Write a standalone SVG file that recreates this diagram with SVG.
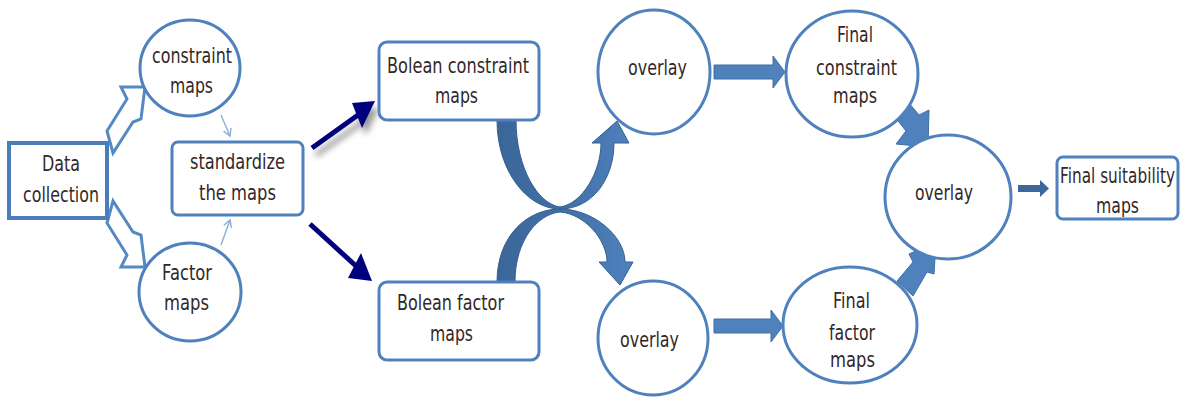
<svg xmlns="http://www.w3.org/2000/svg" width="1186" height="407" viewBox="0 0 1186 407">
<style>
.n{fill:#fff;stroke:#4f81bd;stroke-width:3}
.t{font-family:"DejaVu Sans",Verdana,sans-serif;font-size:22px;fill:#332828}
.blk{fill:#4f81bd;stroke:#3f6ea6;stroke-width:1}
.hol{fill:#fff;stroke:#5589c4;stroke-width:3;stroke-linejoin:miter}
.navy{fill:#00007c}
.thin{stroke:#8fb1da;stroke-width:1.5;fill:none}
</style>
<defs>
<linearGradient id="cg" gradientUnits="userSpaceOnUse" x1="498" y1="0" x2="632" y2="0">
<stop offset="0" stop-color="#3b6699"/>
<stop offset="0.5" stop-color="#4170a8"/>
<stop offset="1" stop-color="#4f81bd"/>
</linearGradient>
<filter id="sh" x="-30%" y="-30%" width="160%" height="160%">
<feGaussianBlur stdDeviation="3"/>
</filter>
<marker id="oa" markerWidth="10" markerHeight="10" refX="8" refY="5" orient="auto" markerUnits="userSpaceOnUse">
<polyline points="1,1 8,5 1,9" fill="none" stroke="#8fb1da" stroke-width="1.5"/>
</marker>
</defs>

<g id="connectors">
<polygon class="hol" points="107,131 127,99 121,87 145,87 141,119 133,122 113,153"/>
<polygon class="hol" points="107,223 127,255 121,267 145,267 141,235 133,232 113,201"/>
<line class="thin" x1="221" y1="115" x2="230" y2="136" marker-end="url(#oa)"/>
<line class="thin" x1="221" y1="245" x2="230" y2="220" marker-end="url(#oa)"/>
<g filter="url(#sh)" opacity="0.6" transform="translate(4,7)">
<line x1="312" y1="148" x2="357" y2="116" stroke="#555" stroke-width="5"/>
<polygon points="352,103 375,101 362,128" fill="#555"/>
</g>
<line x1="312" y1="148" x2="358" y2="115" stroke="#00007c" stroke-width="5"/>
<polygon class="navy" points="352,103 375,101 362,128"/>
<line x1="310" y1="224" x2="356" y2="266" stroke="#00007c" stroke-width="5"/>
<polygon class="navy" points="348,278 361,253 372,281"/>
<path fill="url(#cg)" stroke="#345f92" stroke-width="1" d="M497,120 C497,172 528,209 560,209 C593,209 614,178 614,143 L629,143 L617,121 L592,143 L601,143 C601,172 582,204 560,207 C538,204 516,168 516,120 Z"/>
<path fill="url(#cg)" stroke="#345f92" stroke-width="1" d="M497,282 C497,235 528,209 560,209 C593,209 625,236 625,262 L633,262 L620,285 L599,262 L607,262 C607,240 585,214 560,212 C538,214 515,240 515,282 Z"/>
<polygon class="blk" points="714,65 773,65 773,56 785,72 773,88 773,79 714,79"/>
<polygon class="blk" points="714,319 771,319 771,310 783,326 771,342 771,333 714,333"/>
<polygon class="blk" points="891,112 903,96 919,115 929,110 928,147 896,144 906,131"/>
<polygon class="blk" points="897,281 913,262 909,254 936,242 934,274 927,272 913,296"/>
<polygon fill="#3d6699" points="1018,185 1040,185 1040,180 1049,188.5 1040,197 1040,192 1018,192"/>
</g>

<g id="data-collection">
<rect x="9" y="143" width="98" height="75" fill="#fff" stroke="#4a7ebb" stroke-width="4"/>
<text class="t" x="42" y="171" textLength="38" lengthAdjust="spacingAndGlyphs">Data</text>
<text class="t" x="23" y="202" textLength="76" lengthAdjust="spacingAndGlyphs">collection</text>
</g>
<g id="constraint-maps">
<ellipse class="n" cx="190" cy="68" rx="50" ry="48"/>
<text class="t" x="152" y="63" textLength="80" lengthAdjust="spacingAndGlyphs">constraint</text>
<text class="t" x="170" y="93" textLength="43" lengthAdjust="spacingAndGlyphs">maps</text>
</g>
<g id="factor-maps">
<ellipse class="n" cx="190" cy="292" rx="51" ry="49"/>
<text class="t" x="162" y="280" textLength="50" lengthAdjust="spacingAndGlyphs">Factor</text>
<text class="t" x="164" y="310" textLength="45" lengthAdjust="spacingAndGlyphs">maps</text>
</g>
<g id="standardize">
<rect class="n" x="172" y="142" width="131" height="73" rx="6" stroke-width="3.5"/>
<text class="t" x="190" y="169" textLength="95" lengthAdjust="spacingAndGlyphs">standardize</text>
<text class="t" x="199" y="200" textLength="77" lengthAdjust="spacingAndGlyphs">the maps</text>
</g>
<g id="bolean-constraint">
<rect class="n" x="379" y="42" width="160" height="78" rx="8"/>
<text class="t" x="387" y="73" textLength="142" lengthAdjust="spacingAndGlyphs">Bolean constraint</text>
<text class="t" x="435" y="103" textLength="43" lengthAdjust="spacingAndGlyphs">maps</text>
</g>
<g id="bolean-factor">
<rect class="n" x="379" y="282" width="160" height="78" rx="8"/>
<text class="t" x="397" y="310" textLength="107" lengthAdjust="spacingAndGlyphs">Bolean factor</text>
<text class="t" x="430" y="341" textLength="43" lengthAdjust="spacingAndGlyphs">maps</text>
</g>
<g id="overlay-top">
<ellipse class="n" cx="654" cy="72" rx="56" ry="62"/>
<text class="t" x="628" y="75" textLength="59" lengthAdjust="spacingAndGlyphs">overlay</text>
</g>
<g id="overlay-bottom">
<ellipse class="n" cx="653" cy="338" rx="55" ry="57"/>
<text class="t" x="620" y="347" textLength="59" lengthAdjust="spacingAndGlyphs">overlay</text>
</g>
<g id="final-constraint">
<ellipse class="n" cx="852" cy="74" rx="66" ry="63"/>
<text class="t" x="837" y="42" textLength="36" lengthAdjust="spacingAndGlyphs">Final</text>
<text class="t" x="816" y="75" textLength="81" lengthAdjust="spacingAndGlyphs">constraint</text>
<text class="t" x="833" y="103" textLength="44" lengthAdjust="spacingAndGlyphs">maps</text>
</g>
<g id="final-factor">
<ellipse class="n" cx="850" cy="325" rx="67" ry="58"/>
<text class="t" x="833" y="308" textLength="37" lengthAdjust="spacingAndGlyphs">Final</text>
<text class="t" x="829" y="340" textLength="46" lengthAdjust="spacingAndGlyphs">factor</text>
<text class="t" x="830" y="367" textLength="45" lengthAdjust="spacingAndGlyphs">maps</text>
</g>
<g id="overlay-center">
<ellipse class="n" cx="948" cy="197" rx="63" ry="62"/>
<text class="t" x="915" y="200" textLength="58" lengthAdjust="spacingAndGlyphs">overlay</text>
</g>
<g id="final-suitability">
<rect class="n" x="1057" y="157" width="121" height="62" rx="6"/>
<text class="t" x="1060" y="183" textLength="115" lengthAdjust="spacingAndGlyphs">Final suitability</text>
<text class="t" x="1096" y="213" textLength="43" lengthAdjust="spacingAndGlyphs">maps</text>
</g>
</svg>
